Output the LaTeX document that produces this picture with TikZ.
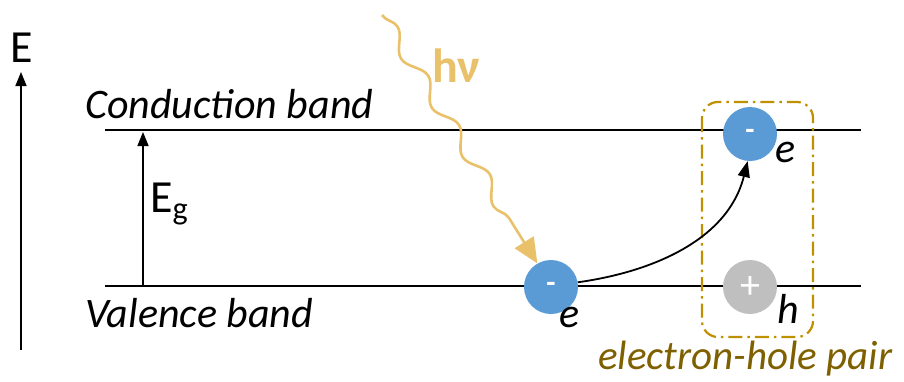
\documentclass[tikz,border=0pt]{standalone}
\usepackage{fontspec}
\setmainfont{Carlito}
\usetikzlibrary{arrows.meta,decorations.pathmorphing}
\definecolor{photon}{RGB}{233,193,107}
\definecolor{eblue}{RGB}{91,155,213}
\definecolor{hgray}{RGB}{191,191,191}
\definecolor{boxgold}{RGB}{191,144,0}
\definecolor{labolive}{RGB}{127,96,0}
\tikzset{
  band/.style={line width=2pt},
  carrier/.style={circle,minimum size=54pt,inner sep=0pt,text=white},
  lab/.style={anchor=base west,inner sep=0pt,font=\fontsize{42}{44}\selectfont\itshape},
  big/.style={anchor=base west,inner sep=0pt,font=\fontsize{46}{48}\selectfont},
  uparrow/.style={line width=1.6pt,-{Triangle[length=14pt,width=11pt]}},
}
\begin{document}
\begin{tikzpicture}[x=1pt,y=-1pt]
\useasboundingbox (0,0) rectangle (904,381);
% bands
\coordinate (cbL) at (105,130); \coordinate (cbR) at (861,130);
\coordinate (vbL) at (105,286); \coordinate (vbR) at (861,286);
\draw[band] (cbL) -- (cbR);
\draw[band] (vbL) -- (vbR);
\node[lab] (cbt) at (85,118) {Conduction band};
\node[lab] (vbt) at (85,327) {Valence band};
% energy axis
\coordinate (eaxB) at (21,350); \coordinate (eaxT) at (21,72);
\draw[uparrow] (eaxB) -- (eaxT);
\node[big,anchor=base] (E) at (22,62) {E};
% gap arrow
\coordinate (egB) at (143,286); \coordinate (egT) at (143,132);
\draw[uparrow] (egB) -- (egT);
\node[big] (Eg) at (150,212) {E\textsubscript{g}};
% electron-hole pair box
\draw[boxgold,line width=2.2pt,rounded corners=16pt,dash pattern=on 14pt off 5pt on 2.5pt off 5pt] (702,102) rectangle (813,337);
\node[anchor=base west,inner sep=0pt,text=labolive,font=\fontsize{41}{44}\selectfont\itshape] (pairt) at (598,369) {electron-hole pair};
% carriers
\node[carrier,fill=eblue] (ev) at (551,287) {\fontsize{30}{30}\selectfont\bfseries -};
\node[carrier,fill=eblue] (ec) at (750,134) {\fontsize{30}{30}\selectfont\bfseries -};
\node[carrier,fill=hgray] (hv) at (750,287) {\fontsize{40}{40}\selectfont +};
\node[lab] (evl) at (559,327) {e};
\node[lab] (ecl) at (775,162) {e};
\node[lab] (hvl) at (777,323) {h};
% excitation arrow
\draw[line width=1.8pt,-{Triangle[length=16pt,width=12pt]}] (ev.10) .. controls (652,272) and (728,240) .. (ec.-95);
% photon
\coordinate (phS) at (382,15);
\draw[photon,line width=2.6pt,decoration={snake,segment length=58pt,amplitude=7pt,post length=30pt},decorate,-{Triangle[length=25pt,width=22pt]}] (phS) -- (ev.120);
\node[anchor=base west,inner sep=0pt,text=photon,font=\fontsize{48}{50}\selectfont\bfseries] (hnu) at (432,82) {hν};
\end{tikzpicture}
\end{document}
